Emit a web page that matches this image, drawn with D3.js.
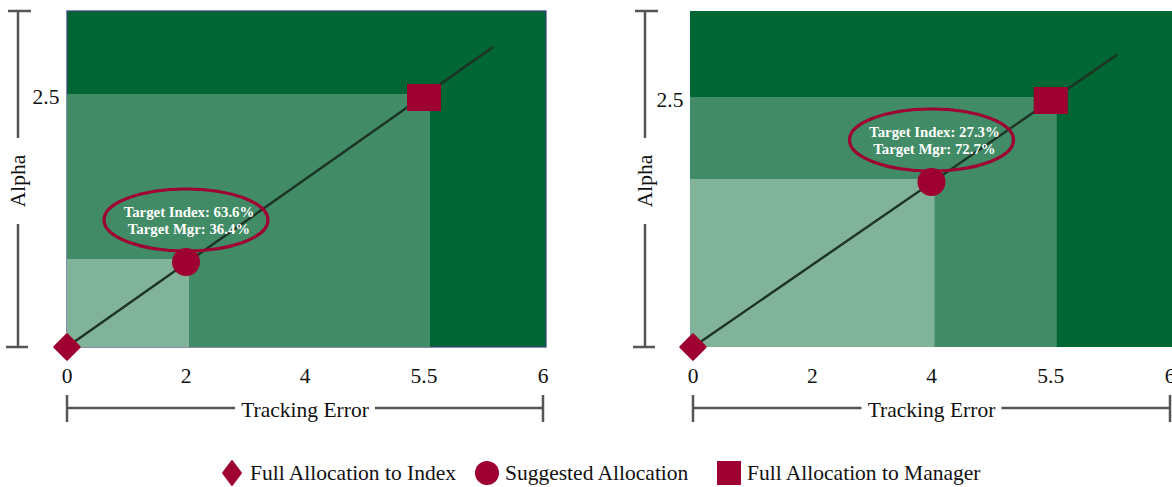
<!DOCTYPE html>
<html><head><meta charset="utf-8">
<script src="https://cdn.jsdelivr.net/npm/d3@7/dist/d3.min.js"></script>
<style>body{margin:0;background:#fff}svg{display:block}</style>
</head><body>
<svg id="c" width="1172" height="487"></svg>
<script>
// ---- data ----
const xTicks = [0, 2, 4, 5.5, 6];
const yTicks = [2.5];
const suggestedTE = [2, 4];
const suggestedAlpha = [0.85, 1.67];
const managerTE = [5.5, 5.5];
const managerAlpha = [2.5, 2.5];
const lineEndTE = [5.79, 5.78];
const lineEndAlpha = [3.0, 2.96];
const targetIndexLabels = ["Target Index: 63.6%", "Target Index: 27.3%"];
const targetMgrLabels = ["Target Mgr: 36.4%", "Target Mgr: 72.7%"];
const legendLabels = ["Full Allocation to Index", "Suggested Allocation", "Full Allocation to Manager"];

// ---- layout ----
const panels = [
  {x0: 67, x1: 543, top: 11, bottom: 347, y25: 97, axisX: 18, labelX: 46, border: true},
  {x0: 693, x1: 1170, top: 11, bottom: 347, y25: 100, axisX: 645, labelX: 670, border: false}
];
const C = {dark: "#006633", mid: "#418c66", light: "#80b399", red: "#9e0031", line: "#1c3326", axis: "#555"};
const font = "'Liberation Serif','Times New Roman',serif";
const FS = 21.5;
const svg = d3.select("#c");

panels.forEach((p, i) => {
  const g = svg.append("g");
  const step = (p.x1 - p.x0) / (xTicks.length - 1);
  const x = d3.scaleLinear().domain(xTicks).range(xTicks.map((d, k) => p.x0 + k * step));
  const y = d3.scaleLinear().domain([0, 2.5]).range([p.bottom, p.y25]);
  const left = p.x0 - (i === 0 ? 0 : 3), right = x(6) + 3;

  // regions
  g.append("rect").attr("x", left).attr("y", p.top).attr("width", right - left).attr("height", p.bottom - p.top)
    .attr("fill", C.dark).attr("stroke", p.border ? "#3b3f7c" : "none").attr("stroke-width", 1.2);
  g.append("rect").attr("x", left).attr("y", y(managerAlpha[i]) - 3)
    .attr("width", x(managerTE[i]) + 6 - left).attr("height", p.bottom - y(managerAlpha[i]) + 3).attr("fill", C.mid);
  g.append("rect").attr("x", left).attr("y", y(suggestedAlpha[i]) - 3)
    .attr("width", x(suggestedTE[i]) + 3 - left).attr("height", p.bottom - y(suggestedAlpha[i]) + 3).attr("fill", C.light);

  // diagonal line
  g.append("line").attr("x1", x(0)).attr("y1", y(0)).attr("x2", x(lineEndTE[i])).attr("y2", y(lineEndAlpha[i]))
    .attr("stroke", C.line).attr("stroke-width", 2.4);

  // ellipse with labels
  const ex = x(suggestedTE[i]), ey = y(suggestedAlpha[i]) - 42;
  g.append("ellipse").attr("cx", ex).attr("cy", ey).attr("rx", 82).attr("ry", 31)
    .attr("fill", "none").attr("stroke", C.red).attr("stroke-width", 3.2);
  g.append("text").attr("x", ex + 3).attr("y", ey - 3).attr("text-anchor", "middle")
    .attr("font-family", font).attr("font-weight", "bold").attr("font-size", 14.8).attr("fill", "#fff")
    .text(targetIndexLabels[i]);
  g.append("text").attr("x", ex + 3).attr("y", ey + 14).attr("text-anchor", "middle")
    .attr("font-family", font).attr("font-weight", "bold").attr("font-size", 14.8).attr("fill", "#fff")
    .text(targetMgrLabels[i]);

  // markers
  g.append("path").attr("transform", `translate(${x(0)},${y(0)}) rotate(45)`)
    .attr("d", "M-9,-9H9V9H-9Z").attr("fill", C.red).attr("stroke", C.red).attr("stroke-width", 2).attr("stroke-linejoin", "round");
  g.append("circle").attr("cx", x(suggestedTE[i])).attr("cy", y(suggestedAlpha[i])).attr("r", 14).attr("fill", C.red);
  g.append("rect").attr("x", x(managerTE[i]) - 17).attr("y", y(managerAlpha[i]) - 13).attr("width", 34).attr("height", 27).attr("fill", C.red);

  // x tick labels
  g.selectAll(".xt").data(xTicks).join("text").attr("x", d => x(d)).attr("y", 383).attr("text-anchor", "middle")
    .attr("font-family", font).attr("font-size", FS).attr("fill", "#111").text(d => d);

  // y tick label
  g.selectAll(".yt").data(yTicks).join("text").attr("x", p.labelX).attr("y", d => y(d) + 7).attr("text-anchor", "middle")
    .attr("font-family", font).attr("font-size", FS).attr("fill", "#111").text(d => d);

  // y bracket
  const ax = p.axisX;
  g.append("path").attr("d", `M${ax - 10},${p.top}H${ax + 13}M${ax},${p.top}V138M${ax},224V${p.bottom}M${ax - 12},${p.bottom}H${ax + 10}`)
    .attr("stroke", C.axis).attr("stroke-width", 2.5).attr("fill", "none");
  g.append("text").attr("transform", `translate(${ax + 7},181) rotate(-90)`).attr("text-anchor", "middle")
    .attr("font-family", font).attr("font-size", FS).attr("fill", "#111").text("Alpha");

  // x bracket
  const mx = (x(0) + x(6)) / 2;
  g.append("path").attr("d", `M${x(0)},395V422M${x(0)},408H${mx - 70}M${mx + 70},408H${x(6)}M${x(6)},395V422`)
    .attr("stroke", C.axis).attr("stroke-width", 2.5).attr("fill", "none");
  g.append("text").attr("x", mx).attr("y", 417).attr("text-anchor", "middle")
    .attr("font-family", font).attr("font-size", FS).attr("fill", "#111").text("Tracking Error");
});

// legend
const lg = svg.append("g");
const legendX = [232, 487, 729];
legendLabels.forEach((t, i) => {
  const cx = legendX[i], cy = 473;
  if (i === 0) lg.append("path").attr("transform", `translate(${cx},${cy})`).attr("d", "M0,-12L9,0L0,12L-9,0Z")
    .attr("fill", C.red).attr("stroke", C.red).attr("stroke-width", 2).attr("stroke-linejoin", "round");
  if (i === 1) lg.append("circle").attr("cx", cx).attr("cy", cy).attr("r", 12).attr("fill", C.red);
  if (i === 2) lg.append("rect").attr("x", cx - 12).attr("y", cy - 12).attr("width", 24).attr("height", 24).attr("fill", C.red);
  lg.append("text").attr("x", cx + 18).attr("y", cy + 7).attr("font-family", font).attr("font-size", FS).attr("fill", "#111").text(t);
});
</script>
</body></html>
